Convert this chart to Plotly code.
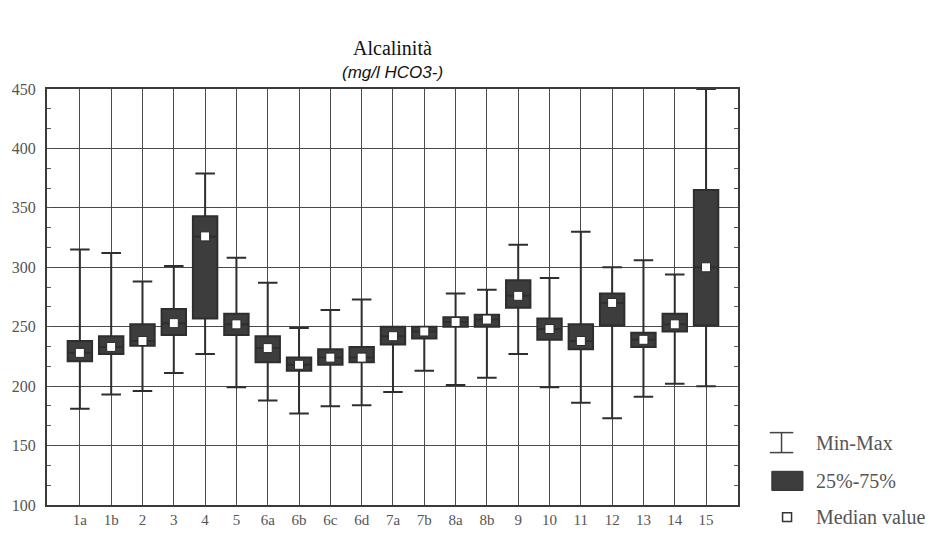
import plotly.graph_objects as go

# Sampling stations and alkalinity statistics (mg/l HCO3-)
stations = ["1a", "1b", "2", "3", "4", "5", "6a", "6b", "6c", "6d", "7a",
            "7b", "8a", "8b", "9", "10", "11", "12", "13", "14", "15"]
min_vals = [181, 193, 196, 211, 227, 199, 188, 177, 183, 184, 195,
            213, 201, 207, 227, 199, 186, 173, 191, 202, 200]
q1_vals = [221, 227, 234, 243, 257, 243, 220, 213, 218, 220, 235,
           240, 250, 250, 266, 239, 231, 251, 233, 246, 251]
median_vals = [228, 233, 238, 253, 326, 252, 232, 218, 224, 224, 242,
               246, 254, 256, 276, 248, 238, 270, 239, 252, 300]
q3_vals = [238, 242, 252, 265, 343, 261, 242, 224, 231, 233, 250,
           250, 258, 260, 289, 257, 252, 278, 245, 261, 365]
max_vals = [315, 312, 288, 301, 379, 308, 287, 249, 264, 273, 250,
            250, 278, 281, 319, 291, 330, 300, 306, 294, 450]

y_ticks = [100, 150, 200, 250, 300, 350, 400, 450]

BOX_FILL = "#3d3d3d"
BOX_LINE = "#2e2e2e"
GRID = "#4a4a4a"
TEXT = "#555555"
SERIF = "Liberation Serif, Times New Roman, serif"
SANS = "Liberation Sans, Arial, sans-serif"

fig = go.Figure()

fig.add_trace(go.Box(
    x=stations,
    lowerfence=min_vals,
    q1=q1_vals,
    median=median_vals,
    q3=q3_vals,
    upperfence=max_vals,
    width=0.78,
    whiskerwidth=0.8,
    fillcolor=BOX_FILL,
    line=dict(color=BOX_LINE, width=2),
    boxpoints=False,
    showlegend=False,
    hoverinfo="skip",
))

# White median markers
fig.add_trace(go.Scatter(
    x=stations,
    y=median_vals,
    mode="markers",
    marker=dict(symbol="square", size=9, color="white",
                line=dict(color="#2a2a2a", width=1)),
    showlegend=False,
    hoverinfo="skip",
))

fig.update_xaxes(
    type="category",
    range=[-1.05, 21.02],
    showgrid=True, gridcolor=GRID, gridwidth=1,
    showline=True, linecolor="#3a3a3a", linewidth=2, mirror=True,
    ticks="", automargin=False,
    tickfont=dict(family=SERIF, size=15, color=TEXT),
    zeroline=False,
)
fig.update_yaxes(
    range=[100, 450],
    tickvals=y_ticks,
    showgrid=True, gridcolor=GRID, gridwidth=1,
    showline=True, linecolor="#3a3a3a", linewidth=2, mirror="ticks",
    ticks="inside", ticklen=0, ticklabelstandoff=6,
    minor=dict(dtick=50 / 3, tick0=100, ticks="inside", ticklen=4,
               tickcolor="#555555", tickwidth=1, showgrid=False),
    tickfont=dict(family=SERIF, size=16, color=TEXT),
    zeroline=False,
)

# Titles
fig.add_annotation(text="Alcalinità", xref="paper", yref="paper",
                   x=0.5, y=1.0, yshift=54, showarrow=False,
                   font=dict(family=SERIF, size=20, color="#111111"))
fig.add_annotation(text="<i>(mg/l HCO3-)</i>", xref="paper", yref="paper",
                   x=0.5, y=1.0, yshift=28, showarrow=False,
                   font=dict(family=SANS, size=17, color="#111111"))

# Legend drawn with paper-referenced shapes and labels
text_x = 1.110
y_mm, y_bx, y_md = 0.150, 0.058, -0.029
# Min-Max symbol
wx0, wx1 = 1.046, 1.080
wh = 0.024
for yy in (y_mm + wh, y_mm - wh):
    fig.add_shape(type="line", xref="paper", yref="paper",
                  x0=wx0, x1=wx1, y0=yy, y1=yy,
                  line=dict(color="#444444", width=1.5))
fig.add_shape(type="line", xref="paper", yref="paper",
              x0=(wx0 + wx1) / 2, x1=(wx0 + wx1) / 2,
              y0=y_mm - wh, y1=y_mm + wh,
              line=dict(color="#444444", width=1.5))
# Box symbol
fig.add_shape(type="rect", xref="paper", yref="paper",
              x0=1.049, x1=1.094, y0=y_bx - 0.023, y1=y_bx + 0.023,
              fillcolor=BOX_FILL, line=dict(color=BOX_LINE, width=1))
# Median symbol
mx = 1.071
fig.add_shape(type="rect", xref="paper", yref="paper",
              x0=mx - 0.0065, x1=mx + 0.0065,
              y0=y_md - 0.0105, y1=y_md + 0.0105,
              fillcolor="white", line=dict(color="#333333", width=1.5))
for label, yy in (("Min-Max", y_mm), ("25%-75%", y_bx), ("Median value", y_md)):
    fig.add_annotation(text=label, xref="paper", yref="paper",
                       x=text_x, y=yy, xanchor="left", yanchor="middle",
                       showarrow=False,
                       font=dict(family=SERIF, size=20, color=TEXT))

fig.update_layout(
    width=946, height=537,
    margin=dict(l=47, r=208, t=89, b=32),
    paper_bgcolor="white", plot_bgcolor="white",
    showlegend=False,
)

fig.write_html("out.html")
